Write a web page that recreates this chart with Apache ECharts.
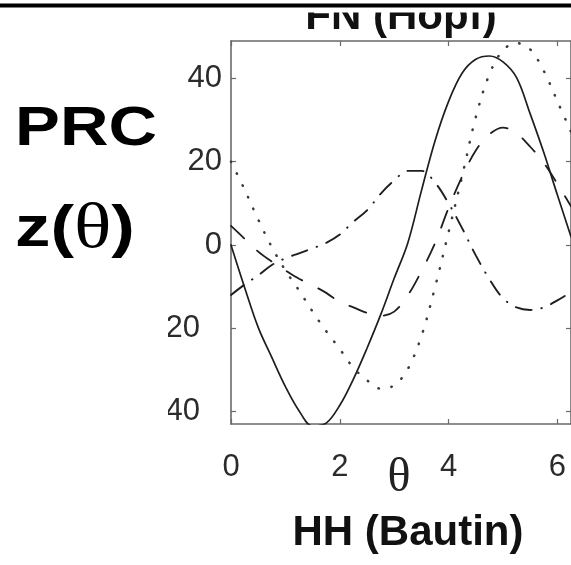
<!DOCTYPE html>
<html><head><meta charset="utf-8">
<script src="https://cdn.jsdelivr.net/npm/echarts@6/dist/echarts.min.js"></script>
<style>html,body{margin:0;padding:0;background:#fff}#c{width:571px;height:565px}</style>
</head><body><div id="c"></div>
<script>
// theta samples (x axis)
const theta = [0,0.25,0.5,0.75,1,1.25,1.5,1.75,2,2.25,2.5,2.75,3,3.25,3.5,3.75,4,4.25,4.5,4.75,5,5.25,5.5,5.75,6,6.25];
// PRC curves
const solidPRC   = [0,-10.2,-19.8,-27,-34,-39.8,-43.5,-42.8,-38.5,-32.2,-24.8,-16.8,-8,0.5,13,25,34.5,41.3,44.6,45.4,44,40.2,31.5,22.2,12,2];
const dottedPRC  = [20,13.3,6.1,-0.5,-6.1,-10.9,-16,-20.7,-25,-29.5,-32.5,-34.5,-33.7,-29.8,-21.9,-10.2,3.1,16.6,30.7,41,46.8,48.5,47,41.8,34.5,27.2];
const dashedPRC  = [4.6,1.5,-1.6,-4,-6.1,-8.1,-9.7,-11.5,-13.7,-15,-16.3,-17,-16,-12.1,-6.3,0.4,8.9,16.5,22.7,26.6,28.2,26.8,23.6,19.7,14.7,9.3];
const dashDotPRC = [-12,-9.5,-7.3,-4.8,-3.2,-2,-0.8,0.5,2.5,5.6,8.3,12.3,15.5,17.8,17.8,15,10,4,-2.5,-8.2,-12.8,-15,-15.6,-15,-13.3,-11.3];
const xTickValues = [0,2,4,6];
const yTickValues = [-40,-20,0,20,40];
const topTitle = 'FN (Hopf)';
const bottomTitle = 'HH (Bautin)';

const chart = echarts.init(document.getElementById('c'), null, {renderer:'canvas'});
const pairs = ys => theta.map((t,i)=>[t, ys[i]]);
const ink = '#1e1e1e';
const axisGrey = '#6a6a6a';
const mkSeries = (name, ys, type, width, color) => ({
  name, type:'line', data: pairs(ys), showSymbol:false, smooth:0.35, clip:true,
  lineStyle:{color:color || ink, width:width, type:type, cap:'round'}, z:3
});
const tickStyle = {show:true, inside:true, length:5, lineStyle:{color:axisGrey, width:1.2}};
const lineStyle = {show:true, onZero:false, lineStyle:{color:axisGrey, width:1.6}};

chart.setOption({
  backgroundColor:'#ffffff',
  animation:false,
  grid:{left:231, top:41, right:0, bottom:141, containLabel:false},
  xAxis:[
    {type:'value', min:0, max:6.25, position:'bottom',
     axisLine:lineStyle, splitLine:{show:false},
     axisTick:Object.assign({customValues:xTickValues}, tickStyle),
     axisLabel:{customValues:xTickValues, margin:28, fontFamily:'Liberation Sans', fontSize:31, color:'#2b2b2b'}},
    {type:'value', min:0, max:6.25, position:'top',
     axisLine:lineStyle, splitLine:{show:false},
     axisTick:Object.assign({customValues:xTickValues}, tickStyle),
     axisLabel:{show:false}}
  ],
  yAxis:[
    {type:'value', min:-43, max:49, position:'left',
     axisLine:lineStyle, splitLine:{show:false},
     axisTick:Object.assign({customValues:yTickValues}, tickStyle),
     axisLabel:{customValues:yTickValues, margin:9, fontFamily:'Liberation Sans', fontSize:31, color:'#2b2b2b',
       formatter: v => v < 0 ? '{neg|' + v + '}' : String(v),
       rich:{neg:{fontFamily:'Liberation Sans', fontSize:31, color:'#2b2b2b', padding:[0,22,0,0]}}}},
    {type:'value', min:-43, max:49, position:'right',
     axisLine:lineStyle, splitLine:{show:false},
     axisTick:Object.assign({customValues:yTickValues}, tickStyle),
     axisLabel:{show:false}}
  ],
  series:[
    mkSeries('solid', solidPRC, 'solid', 1.7),
    mkSeries('dotted', dottedPRC, [0.5, 12.5], 2.5, '#3a3a3a'),
    mkSeries('dashed', dashedPRC, [18, 18], 1.8),
    mkSeries('dashdot', dashDotPRC, [16, 10, 0.5, 10], 1.9)
  ],
  graphic:[
    {type:'text', z:10, x:401, y:17, style:{text:topTitle, x:0, y:0, align:'center', verticalAlign:'middle',
      font:'bold 42px "Liberation Sans"', fill:'#111'}},
    {type:'rect', z:11, shape:{x:0, y:0, width:571, height:12.5}, style:{fill:'#fff'}},
    {type:'rect', z:12, shape:{x:0, y:3.5, width:571, height:4}, style:{fill:'#000'}},
    {type:'rect', z:100, shape:{x:0, y:292, width:168, height:150}, style:{fill:'#fff'}},
    {type:'text', z:10, x:86, y:130, scaleX:1.2, style:{text:'PRC', x:0, y:0, align:'center', verticalAlign:'middle',
      font:'bold 56px "Liberation Sans"', fill:'#000'}},
    {type:'text', z:10, x:15, y:230, scaleX:1.22, style:{text:'{s|z(}{t|θ}{s|)}', x:0, y:0, align:'left', verticalAlign:'middle',
      rich:{s:{fontFamily:'Liberation Sans', fontWeight:'bold', fontSize:58, fill:'#000', color:'#000'},
            t:{fontFamily:'Liberation Serif', fontWeight:'normal', fontSize:64, fill:'#000', color:'#000'}}}},
    {type:'text', z:10, x:399, y:478, style:{text:'θ', x:0, y:0, align:'center', verticalAlign:'middle',
      font:'48px "Liberation Serif"', fill:'#222'}},
    {type:'text', z:10, x:408, y:533, style:{text:bottomTitle, x:0, y:0, align:'center', verticalAlign:'middle',
      font:'bold 42px "Liberation Sans"', fill:'#111'}}
  ]
});
</script>
</body></html>
